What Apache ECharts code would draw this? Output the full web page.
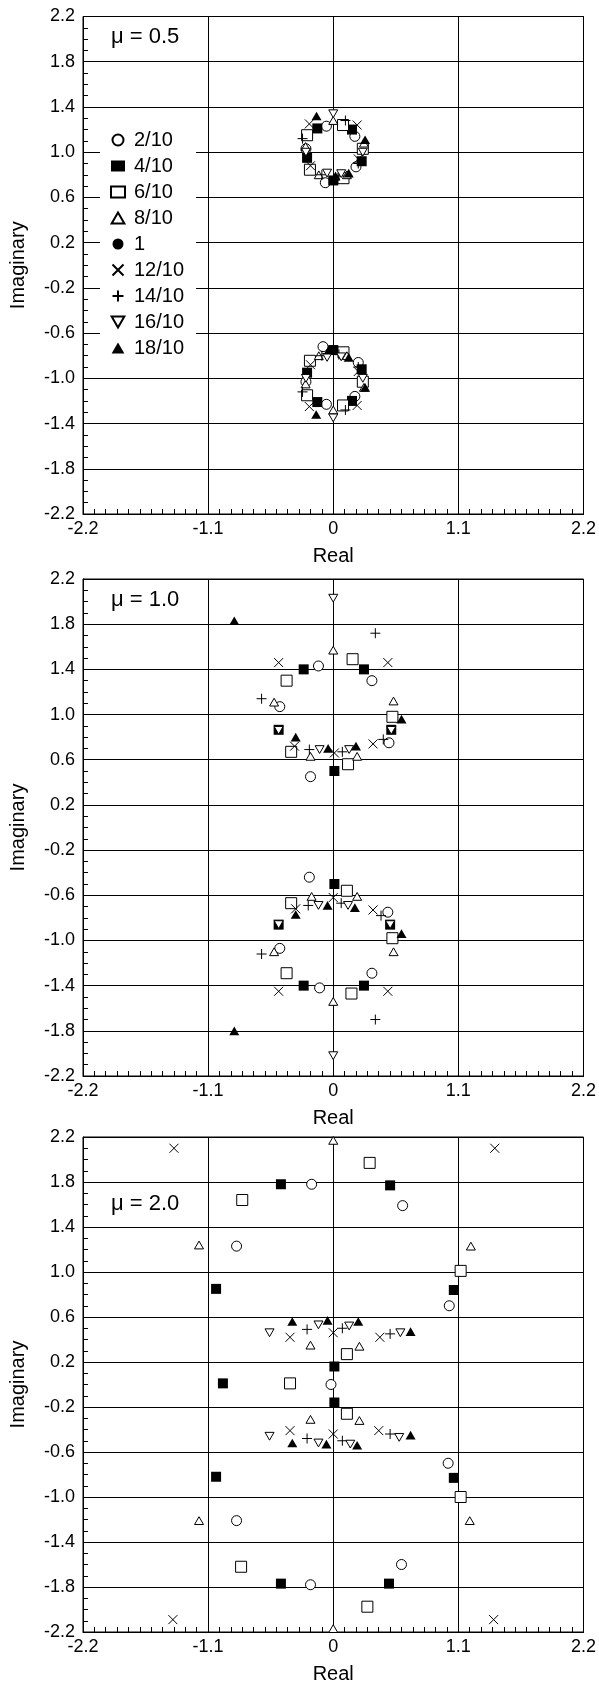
<!DOCTYPE html>
<html lang="en">
<head>
<meta charset="UTF-8">
<title>Root locations for three values of mu</title>
<script src="https://cdn.jsdelivr.net/npm/echarts@6.0.0/dist/echarts.min.js"></script>
<style>
    html, body { margin: 0; padding: 0; background: #fff; }
    #main { width: 599px; height: 1689px; }
</style>
</head>
<body>
<div id="main"></div>
<script>
// legend names, one per symbol
const ratioNames = ['2/10', '4/10', '6/10', '8/10', '1', '12/10', '14/10', '16/10', '18/10'];
const muLabels = ['\u03bc = 0.5', '\u03bc = 1.0', '\u03bc = 2.0'];

// [real, imaginary] points per ratio, mu = 0.5
const mu05Points = [
    [[-0.06, 1.23], [0.19, 1.14], [-0.24, 1.03], [0.20, 0.87], [-0.07, 0.73],
     [-0.06, -1.23], [0.19, -1.16], [-0.24, -1.03], [0.22, -0.86], [-0.09, -0.72]],
    [[-0.14, 1.21], [0.165, 1.20], [-0.23, 0.95], [0.25, 0.92], [0.0, 0.75],
     [-0.14, -1.21], [0.165, -1.20], [-0.23, -0.95], [0.25, -0.92], [0.0, -0.75]],
    [[0.086, 1.24], [-0.23, 1.15], [0.26, 1.03], [-0.205, 0.845], [0.09, 0.77],
     [0.086, -1.24], [-0.23, -1.15], [0.26, -1.03], [-0.205, -0.845], [0.09, -0.77]],
    [[0.0, 1.28], [0.27, 1.08], [-0.243, 1.05], [-0.127, 0.80], [0.12, 0.80],
     [0.0, -1.28], [0.27, -1.08], [-0.243, -1.05], [-0.127, -0.80], [0.12, -0.80]],
    [],
    [[-0.21, 1.25], [0.21, 1.24], [0.22, 0.94], [-0.20, 0.88],
     [-0.21, -1.25], [0.21, -1.24], [0.22, -0.94], [-0.20, -0.88]],
    [[0.107, 1.28], [-0.27, 1.12], [-0.10, 0.80], [0.05, 0.79], [0.22, 0.90],
     [0.107, -1.28], [-0.27, -1.12], [-0.10, -0.80], [0.05, -0.79], [0.22, -0.90]],
    [[0.0, 1.34], [-0.24, 1.0], [0.26, 1.0], [-0.054, 0.815], [0.07, 0.81],
     [0.0, -1.35], [-0.24, -1.0], [0.26, -1.0], [-0.054, -0.815], [0.07, -0.81]],
    [[-0.147, 1.32], [0.28, 1.11], [0.136, 0.815], [0.02, 0.79],
     [-0.15, -1.32], [0.28, -1.08], [0.136, -0.815], [-0.04, -0.75]]
];

// mu = 1.0
const mu10Points = [
    [[-0.13, 1.43], [0.34, 1.30], [-0.47, 1.07], [0.49, 0.75], [-0.20, 0.45],
     [-0.12, -1.42], [0.34, -1.29], [-0.47, -1.07], [0.48, -0.75], [-0.21, -0.44]],
    [[-0.26, 1.40], [0.27, 1.40], [-0.48, 0.865], [0.51, 0.865], [0.01, 0.50],
     [-0.26, -1.40], [0.27, -1.40], [-0.48, -0.86], [0.50, -0.86], [0.01, -0.50]],
    [[0.17, 1.49], [-0.41, 1.30], [0.52, 0.98], [-0.37, 0.67], [0.13, 0.56],
     [0.16, -1.47], [-0.41, -1.29], [0.52, -0.98], [-0.37, -0.67], [0.12, -0.56]],
    [[0.0, 1.57], [0.53, 1.12], [-0.52, 1.11], [-0.20, 0.63], [0.21, 0.63],
     [0.0, -1.54], [0.53, -1.10], [-0.52, -1.10], [-0.19, -0.61], [0.21, -0.61]],
    [],
    [[-0.48, 1.46], [0.48, 1.46], [0.35, 0.74], [0.01, 0.66], [-0.34, 0.72],
     [-0.48, -1.45], [0.48, -1.45], [0.35, -0.73], [0.0, -0.62], [-0.33, -0.72]],
    [[0.37, 1.72], [-0.63, 1.14], [-0.21, 0.69], [0.08, 0.67], [0.44, 0.78],
     [0.37, -1.70], [-0.63, -1.12], [-0.22, -0.69], [0.07, -0.67], [0.42, -0.78]],
    [[0.0, 2.03], [-0.48, 0.86], [0.51, 0.86], [-0.12, 0.69], [0.14, 0.69],
     [0.0, -2.02], [-0.48, -0.86], [0.50, -0.86], [-0.13, -0.69], [0.13, -0.69]],
    [[-0.87, 1.83], [-0.33, 0.80], [-0.045, 0.70], [0.20, 0.72], [0.60, 0.96],
     [-0.87, -1.80], [-0.33, -0.77], [-0.05, -0.69], [0.19, -0.71], [0.60, -0.94]]
];

// mu = 2.0
const mu20Points = [
    [[-0.19, 1.78], [0.61, 1.59], [-0.85, 1.23], [1.02, 0.70], [-0.02, 0.0],
     [-0.85, -1.21], [1.01, -0.70], [0.60, -1.60], [-0.20, -1.78]],
    [[-0.46, 1.78], [0.50, 1.77], [-1.03, 0.85], [1.06, 0.84], [0.01, 0.16], [-0.97, 0.01],
     [0.01, -0.16], [-1.03, -0.82], [1.06, -0.83], [-0.46, -1.77], [0.49, -1.77]],
    [[0.32, 1.97], [-0.80, 1.64], [1.12, 1.01], [0.12, 0.27], [-0.38, 0.01],
     [0.12, -0.26], [1.12, -1.0], [-0.81, -1.62], [0.30, -1.975]],
    [[0.0, 2.17], [-1.18, 1.24], [1.21, 1.23], [-0.20, 0.35], [0.23, 0.34],
     [-0.20, -0.31], [0.23, -0.32], [-1.18, -1.21], [1.20, -1.21], [0.0, -2.17]],
    [],
    [[-1.40, 2.10], [1.42, 2.10], [-0.38, 0.42], [0.0, 0.46], [0.41, 0.42],
     [-0.38, -0.41], [0.0, -0.44], [0.40, -0.41], [-1.41, -2.09], [1.41, -2.09]],
    [[-0.23, 0.49], [0.08, 0.50], [0.50, 0.45],
     [-0.23, -0.48], [0.08, -0.50], [0.50, -0.44]],
    [[-0.56, 0.46], [-0.13, 0.53], [0.14, 0.52], [0.59, 0.46],
     [-0.56, -0.46], [-0.13, -0.52], [0.15, -0.53], [0.58, -0.47]],
    [[-0.36, 0.56], [-0.05, 0.57], [0.22, 0.56], [0.68, 0.47],
     [-0.36, -0.52], [-0.06, -0.53], [0.21, -0.54], [0.68, -0.45]]
];

const panels = [mu05Points, mu10Points, mu20Points];

const FONT = '"Liberation Sans", Arial, Helvetica, sans-serif';

// marker look for each ratio
const markers = [
    { symbol: 'circle', size: 10, fill: '#fff', line: 1 },
    { symbol: 'rect', size: 10, fill: '#000', line: 0 },
    { symbol: 'rect', size: 11, fill: '#fff', line: 1 },
    { symbol: 'path://M5,0L10,8.66L0,8.66Z', size: 9, fill: '#fff', line: 1 },
    { symbol: 'circle', size: 10, fill: '#000', line: 0 },
    { symbol: 'path://M0,0L10,10M10,0L0,10', size: 9, fill: 'none', line: 1 },
    { symbol: 'path://M5,0L5,10M0,5L10,5', size: 10, fill: 'none', line: 1 },
    { symbol: 'path://M0,0L10,0L5,8.66Z', size: 9, fill: '#fff', line: 1 },
    { symbol: 'path://M5,0L10,8.66L0,8.66Z', size: 10, fill: '#000', line: 0 }
];

const gridTops = [16.5, 579, 1137];
const gridHeights = [497.5, 497, 495];

function fmt(v) {
    if (Math.abs(v) < 1e-9) return '0';
    return v.toFixed(1);
}

const grids = [], xAxes = [], yAxes = [], series = [], graphics = [];

gridTops.forEach(function (top, i) {
    grids.push({
        left: 83, right: 13, top: top, height: gridHeights[i],
        show: true, borderColor: '#000', borderWidth: 1, backgroundColor: 'transparent'
    });
    xAxes.push({
        gridIndex: i, type: 'value', min: -2.2, max: 2.2, interval: 1.1,
        name: 'Real', nameLocation: 'middle', nameGap: 32,
        nameTextStyle: { fontFamily: FONT, fontSize: 20, color: '#000' },
        axisLine: { onZero: false, lineStyle: { color: '#000', width: 1 } },
        axisTick: { inside: true, length: 6, lineStyle: { color: '#000' } },
        minorTick: { show: true, splitNumber: 11, length: 5, lineStyle: { color: '#000' } },
        splitLine: { show: true, lineStyle: { color: '#000', width: 1 } },
        axisLabel: {
            color: '#000', fontFamily: FONT, fontSize: 18, margin: 6,
            showMinLabel: true, showMaxLabel: true, formatter: fmt
        }
    });
    yAxes.push({
        gridIndex: i, type: 'value', min: -2.2, max: 2.2, interval: 0.4,
        name: 'Imaginary', nameLocation: 'middle', nameGap: 55,
        nameTextStyle: { fontFamily: FONT, fontSize: 20, color: '#000' },
        axisLine: { onZero: false, lineStyle: { color: '#000', width: 1 } },
        axisTick: { inside: true, length: 6, lineStyle: { color: '#000' } },
        minorTick: { show: true, splitNumber: 4, length: 5, lineStyle: { color: '#000' } },
        splitLine: { show: true, lineStyle: { color: '#000', width: 1 } },
        axisLabel: {
            color: '#000', fontFamily: FONT, fontSize: 18, margin: 8,
            showMinLabel: true, showMaxLabel: true, formatter: fmt
        }
    });

    panels[i].forEach(function (pts, k) {
        const m = markers[k];
        series.push({
            name: ratioNames[k],
            type: 'scatter',
            xAxisIndex: i, yAxisIndex: i,
            symbol: m.symbol,
            symbolSize: m.size,
            symbolKeepAspect: true,
            itemStyle: { color: m.fill, borderColor: '#000', borderWidth: m.line, opacity: 1 },
            emphasis: { disabled: true },
            silent: true,
            animation: false,
            data: pts
        });
    });
});

// mu labels inside each panel
const muTextTops = [26, 589, 1193];
muLabels.forEach(function (txt, i) {
    graphics.push({
        type: 'text', left: 111, top: muTextTops[i], z: 10,
        style: { text: txt, fill: '#000', font: '22px ' + FONT }
    });
});

const chart = echarts.init(document.getElementById('main'), null, { renderer: 'canvas' });
chart.setOption({
    animation: false,
    backgroundColor: '#fff',
    grid: grids,
    xAxis: xAxes,
    yAxis: yAxes,
    legend: {
        data: ratioNames,
        orient: 'vertical',
        left: 100, top: 122,
        padding: [8, 12, 6, 10],
        backgroundColor: '#fff',
        itemWidth: 14, itemHeight: 11,
        itemGap: 6,
        selectedMode: false,
        textStyle: { fontFamily: FONT, fontSize: 20, color: '#000', padding: [0, 0, 0, 4] }
    },
    graphic: graphics,
    series: series
});
</script>
</body>
</html>
